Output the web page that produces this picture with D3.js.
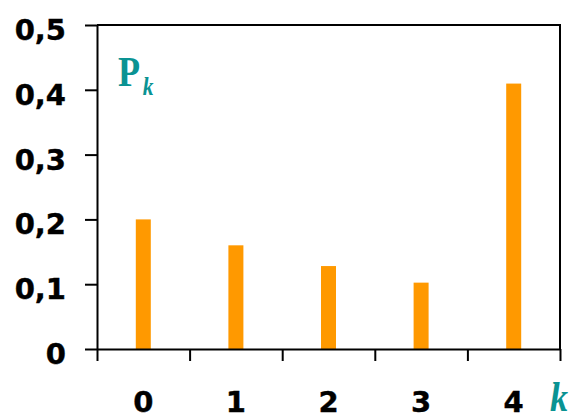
<!DOCTYPE html>
<html><head><meta charset="utf-8">
<script src="https://cdn.jsdelivr.net/npm/d3@7"></script>
<style>html,body{margin:0;padding:0;background:#fff;}svg{display:block;}</style>
</head><body>
<script>
const categories = ["0","1","2","3","4"];
const values = [0.2, 0.16, 0.128, 0.1024, 0.4096];
const yTicks = [0, 0.1, 0.2, 0.3, 0.4, 0.5];
const yTickLabels = ["0","0,1","0,2","0,3","0,4","0,5"];

const W = 571, H = 416;
const mLeft = 97, mRight = 560, mTop = 25, mBottom = 349;
const teal = "#0a9393", orange = "#ff9900";
const numFont = "'DejaVu Sans', Verdana, sans-serif";
const serif = "'Liberation Serif', 'Times New Roman', serif";

const svg = d3.select("body").append("svg").attr("width", W).attr("height", H);

const x = d3.scaleBand().domain(categories).range([mLeft, mRight]).padding(0);
const xb = d3.scaleLinear().domain([0, categories.length]).range([mLeft, mRight]);
const y = d3.scaleLinear().domain([0, 0.5]).range([mBottom, mTop]);

// frame top & right
svg.append("path")
  .attr("d", `M${mLeft},${mTop}H${mRight}V${mBottom}`)
  .attr("fill", "none").attr("stroke", "#000").attr("stroke-width", 2);

// bars
const barW = 15;
svg.selectAll("rect.bar").data(values).join("rect")
  .attr("class", "bar")
  .attr("x", (d, i) => x(categories[i]) + x.bandwidth() / 2 - barW / 2)
  .attr("width", barW)
  .attr("y", d => y(d))
  .attr("height", d => y(0) - y(d))
  .attr("fill", orange);

// y axis
const yAxis = svg.append("g").attr("transform", `translate(${mLeft},0)`)
  .call(d3.axisLeft(y).tickValues(yTicks).tickSize(12).tickSizeOuter(0)
    .tickFormat((d, i) => yTickLabels[i]));
yAxis.selectAll("path,line").attr("stroke", "#000").attr("stroke-width", 2);
yAxis.selectAll("text")
  .attr("x", -31).attr("dy", null).attr("y", 14.5)
  .attr("font-family", numFont).attr("font-weight", "bold")
  .attr("font-size", 29).attr("fill", "#000")
  .attr("stroke", "#000").attr("stroke-width", 0.4);

// x axis boundary ticks
const xAxis = svg.append("g").attr("transform", `translate(0,${mBottom})`)
  .call(d3.axisBottom(xb).tickValues(d3.range(categories.length + 1))
    .tickSize(12).tickSizeOuter(0).tickFormat(""));
xAxis.selectAll("path,line").attr("stroke", "#000").attr("stroke-width", 2);

// x category labels
const xLab = svg.append("g").attr("transform", `translate(0,${mBottom})`)
  .call(d3.axisBottom(x).tickSize(0));
xLab.select(".domain").remove();
xLab.selectAll("text")
  .attr("y", 63).attr("dy", null)
  .attr("font-family", numFont).attr("font-weight", "bold")
  .attr("font-size", 29).attr("fill", "#000")
  .attr("stroke", "#000").attr("stroke-width", 0.4);

// P_k label
const pk = svg.append("text")
  .attr("transform", "translate(118,86) scale(0.86,1)")
  .attr("font-family", serif).attr("fill", teal);
pk.append("tspan").attr("font-weight", "bold").attr("font-size", 42).text("P");
pk.append("tspan").attr("font-weight", "bold").attr("font-style", "italic")
  .attr("font-size", 25).attr("dx", 3).attr("dy", 9).text("k");

// axis k label
svg.append("text")
  .attr("transform", "translate(550,411) scale(0.86,1)")
  .attr("font-family", serif).attr("font-weight", "bold").attr("font-style", "italic")
  .attr("font-size", 42).attr("fill", teal).text("k");
</script>
</body></html>
